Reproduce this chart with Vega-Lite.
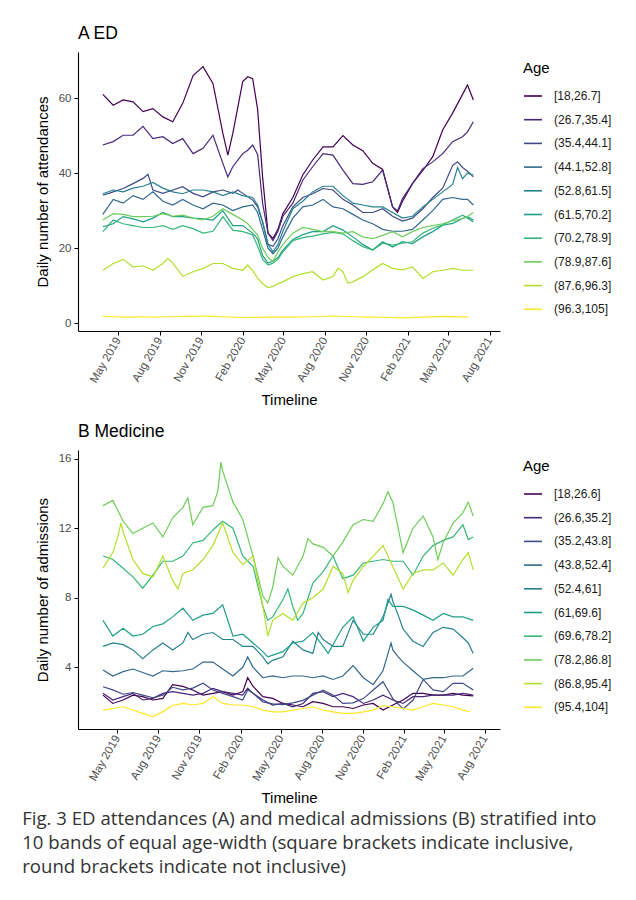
{
  "$schema": "https://vega.github.io/schema/vega-lite/v6.json",
  "background": "white",
  "padding": {"left": 22, "top": 24, "right": 5, "bottom": 10},
  "config": {
    "font": "Liberation Sans",
    "view": {"stroke": null},
    "axis": {"grid": false, "domainColor": "black", "domainWidth": 1.1, "tickColor": "black", "tickWidth": 1, "tickSize": 4, "labelColor": "#4d4d4d", "labelFontSize": 11.5, "labelPadding": 3, "titleFontSize": 15, "titleFontWeight": "normal", "titleColor": "black", "titlePadding": 8},
    "legend": {"symbolType": "stroke", "symbolSize": 324, "symbolStrokeWidth": 1.6, "labelFontSize": 12, "labelColor": "#1a1a1a", "labelOffset": 11, "titleFontSize": 15, "titleFontWeight": "normal", "titleColor": "black", "titlePadding": 10, "rowPadding": 7.7, "offset": 14, "padding": 9},
    "title": {"fontSize": 17.5, "fontWeight": "normal", "anchor": "start", "frame": "group", "color": "black", "offset": 10}
  },
  "title": {
    "text": ["Fig. 3 ED attendances (A) and medical admissions (B) stratified into", "10 bands of equal age-width (square brackets indicate inclusive,", "round brackets indicate not inclusive)"],
    "orient": "bottom", "anchor": "start", "frame": "bounds", "font": "Open Sans", "fontSize": 18.6, "fontWeight": "normal", "color": "#333333", "lineHeight": 24, "offset": 5, "dx": -13
  },
  "spacing": 14,
  "resolve": {"scale": {"color": "independent", "x": "independent", "y": "independent"}, "legend": {"color": "independent"}},
  "datasets": {
    "ed": [
      {"d":"2019-03-28","a1":61,"a2":47.5,"a3":34.1,"a4":29,"a5":34.5,"a6":25.7,"a7":24.4,"a8":27.5,"a9":14.1,"a10":1.8},
      {"d":"2019-04-20","a1":58.1,"a2":48.4,"a3":35,"a4":33,"a5":35.5,"a6":26.5,"a7":27.5,"a8":29.2,"a9":15.9,"a10":1.7},
      {"d":"2019-05-12","a1":59.5,"a2":50.1,"a3":35.9,"a4":32,"a5":35,"a6":28.4,"a7":26.5,"a8":29,"a9":17,"a10":1.6},
      {"d":"2019-06-03","a1":59,"a2":50.1,"a3":37.2,"a4":34,"a5":36,"a6":27.8,"a7":26,"a8":28.4,"a9":15,"a10":1.6},
      {"d":"2019-06-25","a1":56.4,"a2":52.5,"a3":38.6,"a4":33,"a5":36.5,"a6":27,"a7":25.5,"a8":28.4,"a9":15.3,"a10":1.7},
      {"d":"2019-07-06","a3":39.7},
      {"d":"2019-07-17","a1":57.2,"a2":49.2,"a3":35.5,"a4":35,"a5":37.5,"a6":28,"a7":25.5,"a8":28.5,"a9":14.1,"a10":1.6},
      {"d":"2019-08-08","a1":55,"a2":49.7,"a3":34.6,"a4":32.5,"a5":36,"a6":29.5,"a7":26,"a8":29.2,"a9":15.9,"a10":1.7},
      {"d":"2019-08-19","a9":17.2},
      {"d":"2019-08-30","a1":53.7,"a2":47.9,"a3":35.5,"a4":31.5,"a5":35,"a6":28.4,"a7":25,"a8":28.5,"a9":16,"a10":1.7},
      {"d":"2019-09-21","a1":58.6,"a2":49.2,"a3":36.4,"a4":33,"a5":34.5,"a6":28.4,"a7":26,"a8":28.8,"a9":12.5,"a10":1.8},
      {"d":"2019-10-14","a1":66,"a2":45.2,"a3":34.6,"a4":31.5,"a5":35.5,"a6":28,"a7":25.2,"a8":28,"a9":13.7,"a10":1.8},
      {"d":"2019-11-05","a1":68.4,"a2":46.6,"a3":33.7,"a4":30.5,"a5":35.5,"a6":27.8,"a7":24,"a8":27.5,"a9":14.6,"a10":1.9},
      {"d":"2019-11-27","a1":63.9,"a2":50.1,"a3":35,"a4":32,"a5":35,"a6":27.5,"a7":24.5,"a8":28.5,"a9":15.9,"a10":1.8},
      {"d":"2019-12-19","a1":50.6,"a2":42.6,"a3":35.5,"a4":31.5,"a5":34,"a6":30,"a7":28.4,"a8":30.5,"a9":15.9,"a10":1.7},
      {"d":"2019-12-30","a1":44.8,"a2":39},
      {"d":"2020-01-10","a1":50.6,"a2":41.7,"a3":34.6,"a4":30,"a5":35,"a6":26,"a7":24.8,"a8":29,"a9":14.6,"a10":1.6},
      {"d":"2020-01-21","a3":35.5},
      {"d":"2020-02-01","a1":64.4,"a2":45.2,"a3":34.6,"a4":31,"a5":34,"a6":26,"a7":24.4,"a8":27.5,"a9":14.1,"a10":1.5},
      {"d":"2020-02-12","a1":65.7,"a2":46.1,"a6":25,"a7":24,"a8":26.5,"a9":15.5},
      {"d":"2020-02-23","a1":65.2,"a2":47.5,"a3":32.8,"a4":31.5,"a5":33.5,"a6":24,"a7":23.5,"a8":25,"a9":14},
      {"d":"2020-03-05","a1":57,"a2":45,"a3":31,"a4":29.5,"a5":31.5,"a6":22.5,"a7":20.5,"a8":23.5,"a9":12},
      {"d":"2020-03-16","a1":39,"a2":32,"a3":27,"a4":25,"a5":27,"a6":18,"a7":17,"a8":20,"a9":10.5},
      {"d":"2020-03-28","a1":24,"a2":24,"a3":21,"a4":20,"a5":21,"a6":16,"a7":15.5,"a8":17.5,"a9":9.5},
      {"d":"2020-04-08","a1":22.6,"a2":22,"a3":20.5,"a4":18.5,"a5":19,"a6":16.5,"a7":16,"a8":16.5,"a9":9.8,"a10":1.6},
      {"d":"2020-04-19","a1":25,"a2":24.5,"a3":22.5,"a4":20,"a5":21,"a6":17.5,"a7":17,"a8":19,"a9":10.5},
      {"d":"2020-04-30","a1":29.2,"a2":28.5,"a3":26,"a4":23,"a5":24.5,"a6":19.5,"a7":19,"a8":21,"a9":11},
      {"d":"2020-05-22","a1":33.5,"a2":32,"a3":31,"a4":28,"a5":30.5,"a6":22.3,"a7":22,"a8":24,"a9":12.4,"a10":1.6},
      {"d":"2020-06-13","a1":39.5,"a2":38.1,"a3":33.5,"a4":31,"a5":32.5,"a6":23.6,"a7":22.8,"a8":25.5,"a9":13.2},
      {"d":"2020-07-05","a1":43.5,"a2":41.7,"a3":34.5,"a4":31.5,"a5":35,"a6":24.4,"a7":23.2,"a8":25,"a9":13.7,"a10":1.7},
      {"d":"2020-07-28","a1":47,"a2":45.2,"a3":35.9,"a4":33,"a5":36.5,"a6":24.4,"a7":23.8,"a8":24.4,"a9":11.5},
      {"d":"2020-08-19","a1":47,"a2":44.8,"a3":35.5,"a4":31,"a5":36.5,"a6":26,"a7":24.2,"a8":24.4,"a9":12.4,"a10":1.9},
      {"d":"2020-08-30","a9":14.6},
      {"d":"2020-09-10","a1":50,"a2":40.8,"a3":33,"a4":30.5,"a5":34,"a6":24.8,"a7":23.8,"a8":24,"a9":13.7},
      {"d":"2020-09-21","a9":10.6},
      {"d":"2020-10-02","a1":47.5,"a2":37.2,"a3":31.5,"a4":29,"a5":32,"a6":23,"a7":22,"a8":24.4,"a9":11,"a10":1.7},
      {"d":"2020-10-24","a1":46,"a2":37,"a3":29.5,"a4":27.5,"a5":31.5,"a6":21,"a7":20.4,"a8":23,"a9":12.4},
      {"d":"2020-11-15","a1":42.6,"a2":37.7,"a3":29.5,"a4":26.5,"a5":31,"a6":19.5,"a7":19.5,"a8":22.5,"a9":14.2,"a10":1.6},
      {"d":"2020-12-07","a1":41,"a2":40.8,"a3":30.5,"a4":25,"a5":31,"a6":21.7,"a7":21.3,"a8":23.4,"a9":15.9},
      {"d":"2020-12-29","a1":31,"a2":31,"a3":28.5,"a4":24.5,"a5":29.5,"a6":20.3,"a7":20.8,"a8":24.4,"a9":14.6,"a10":1.5},
      {"d":"2021-01-09","a1":29.5,"a2":30},
      {"d":"2021-01-20","a1":32.5,"a2":33.2,"a3":27.2,"a4":24.5,"a5":28,"a6":21.7,"a7":21.3,"a8":23,"a9":14.2,"a10":1.4},
      {"d":"2021-02-11","a1":37.2,"a2":37.2,"a3":28,"a4":25,"a5":28.5,"a6":21.2,"a7":21.7,"a8":24.4,"a9":15},
      {"d":"2021-03-06","a1":40.7,"a2":41.2,"a3":30.5,"a4":27.5,"a5":31,"a6":23,"a7":24,"a8":25.5,"a9":11.9,"a10":1.6},
      {"d":"2021-03-28","a1":44.4,"a2":43,"a3":33.5,"a4":30,"a5":33,"a6":24.4,"a7":25.3,"a8":26,"a9":13.7},
      {"d":"2021-04-19","a1":51.5,"a2":45.2,"a3":36,"a4":33,"a5":35,"a6":26.1,"a7":26.2,"a8":26.5,"a9":14.1,"a10":1.8},
      {"d":"2021-05-11","a1":56,"a2":48.4,"a3":42,"a4":33.5,"a5":37,"a6":26.6,"a7":27.5,"a8":27.3,"a9":14.6},
      {"d":"2021-05-22","a3":43,"a5":41.5},
      {"d":"2021-06-02","a1":61,"a2":49.7,"a3":41.5,"a4":33,"a5":38.5,"a6":27.9,"a7":28.8,"a8":27.9,"a9":14.1},
      {"d":"2021-06-13","a1":63.5,"a2":51,"a3":40.5,"a4":33,"a5":40,"a6":28.4,"a7":28,"a8":28.5},
      {"d":"2021-06-15","a10":1.6},
      {"d":"2021-06-26","a1":59.5,"a2":53.7,"a3":39,"a4":31.5,"a5":39.5,"a6":27.5,"a7":27,"a8":29.5,"a9":14.1}
    ],
    "med": [
      {"d":"2019-03-30","b1":2.4,"b2":2.5,"b3":2.88,"b4":3.85,"b5":5.2,"b6":6.7,"b7":10.4,"b8":13.3,"b9":9.7,"b10":1.54},
      {"d":"2019-04-21","b1":1.92,"b2":2.12,"b3":2.7,"b4":3.5,"b5":5.4,"b6":5.8,"b7":10.2,"b8":13.6,"b9":10.6,"b10":1.63},
      {"d":"2019-05-02","b9":11.5},
      {"d":"2019-05-09","b9":12.3},
      {"d":"2019-05-14","b1":2.12,"b2":2.31,"b3":2.45,"b4":3.75,"b5":5.3,"b6":6.25,"b7":9.7,"b8":12.4,"b9":11.8,"b10":1.73},
      {"d":"2019-05-25","b9":11},
      {"d":"2019-06-05","b1":2.4,"b2":2.5,"b3":2.55,"b4":3.9,"b5":5.0,"b6":5.8,"b7":9.2,"b8":11.7,"b9":10.2,"b10":1.54},
      {"d":"2019-06-27","b1":2.31,"b2":2.12,"b3":2.4,"b4":3.7,"b5":4.5,"b6":5.9,"b7":8.55,"b8":12.0,"b9":9.4,"b10":1.35},
      {"d":"2019-07-20","b1":2.12,"b2":2.21,"b3":2.25,"b4":3.5,"b5":5.0,"b6":6.35,"b7":9.3,"b8":12.3,"b9":9.2,"b10":1.15},
      {"d":"2019-08-11","b1":2.21,"b2":2.5,"b3":2.4,"b4":3.8,"b5":5.4,"b6":6.5,"b7":10.1,"b8":11.5,"b9":10.4,"b10":1.45},
      {"d":"2019-09-02","b1":3.0,"b2":2.6,"b3":2.85,"b4":3.75,"b5":5.0,"b6":6.9,"b7":10.1,"b8":12.6,"b9":9.0,"b10":1.8},
      {"d":"2019-09-14","b9":8.5},
      {"d":"2019-09-25","b1":2.9,"b2":2.5,"b3":2.7,"b4":3.8,"b5":5.4,"b6":7.4,"b7":10.4,"b8":13.2,"b9":9.4,"b10":1.92},
      {"d":"2019-10-06","b5":6.0,"b8":13.75},
      {"d":"2019-10-17","b1":2.69,"b2":2.4,"b3":2.8,"b4":3.9,"b5":5.6,"b6":6.7,"b7":11.15,"b8":12.2,"b9":9.6,"b10":1.83},
      {"d":"2019-11-09","b1":2.4,"b2":2.5,"b3":3.08,"b4":4.3,"b5":5.9,"b6":7.0,"b7":11.3,"b8":13.2,"b9":10.2,"b10":1.92},
      {"d":"2019-12-01","b1":2.5,"b2":2.79,"b3":2.69,"b4":4.3,"b5":6.0,"b6":7.1,"b7":11.9,"b8":13.3,"b9":11.0,"b10":2.31},
      {"d":"2019-12-12","b8":14.1},
      {"d":"2019-12-19","b8":15.8},
      {"d":"2019-12-23","b1":2.6,"b2":2.6,"b3":2.5,"b4":3.9,"b5":5.6,"b6":7.6,"b7":12.4,"b8":15.3,"b9":12.3,"b10":1.92},
      {"d":"2020-01-15","b1":2.4,"b2":2.5,"b3":2.31,"b4":3.5,"b5":5.6,"b6":5.8,"b7":12.0,"b8":13.5,"b9":10.6,"b10":1.83},
      {"d":"2020-02-06","b1":2.6,"b2":2.4,"b3":2.12,"b4":4.0,"b5":5.2,"b6":5.9,"b7":10.4,"b8":12.5,"b9":9.9,"b10":1.83},
      {"d":"2020-02-17","b1":3.4,"b2":2.8,"b3":2.69,"b4":4.6},
      {"d":"2020-02-29","b1":2.9,"b2":2.5,"b3":2.5,"b4":4.0,"b5":5.2,"b6":5.4,"b7":9.8,"b8":10.4,"b9":10.4,"b10":1.73},
      {"d":"2020-03-22","b1":2.31,"b2":2.12,"b3":2.0,"b4":3.4,"b5":4.6,"b6":4.9,"b7":7.5,"b8":8.1,"b9":7.5,"b10":1.54},
      {"d":"2020-04-02","b5":4.2,"b6":4.6,"b7":6.7,"b8":7.7,"b9":5.8},
      {"d":"2020-04-13","b1":2.21,"b2":1.83,"b3":1.9,"b4":3.5,"b5":4.4,"b6":4.7,"b7":6.9,"b8":8.6,"b9":6.7,"b10":1.44},
      {"d":"2020-04-25","b8":10.3},
      {"d":"2020-05-06","b1":1.92,"b2":1.92,"b3":1.85,"b4":3.4,"b5":4.6,"b6":4.9,"b7":7.9,"b8":9.8,"b9":7.1,"b10":1.44},
      {"d":"2020-05-17","b7":8.5},
      {"d":"2020-05-28","b1":1.83,"b2":1.73,"b3":1.95,"b4":3.5,"b5":5.5,"b6":5.4,"b7":7.5,"b8":9.3,"b9":6.7,"b10":1.54},
      {"d":"2020-06-08","b7":6.7},
      {"d":"2020-06-20","b1":1.73,"b2":1.92,"b3":2.1,"b4":3.5,"b5":5.0,"b6":5.5,"b7":7.1,"b8":10.4,"b9":7.7,"b10":1.63},
      {"d":"2020-07-01","b8":11.4},
      {"d":"2020-07-12","b1":2.02,"b2":2.5,"b3":2.4,"b4":3.4,"b5":4.8,"b6":6.0,"b7":8.85,"b8":11.1,"b9":8.0,"b10":1.73},
      {"d":"2020-07-24","b5":6.0},
      {"d":"2020-08-04","b1":1.92,"b2":2.6,"b3":2.69,"b4":3.5,"b5":5.6,"b6":5.2,"b7":9.5,"b8":10.9,"b9":8.5,"b10":1.54},
      {"d":"2020-08-15","b6":4.8},
      {"d":"2020-08-26","b1":1.73,"b2":2.31,"b3":2.4,"b4":3.3,"b5":5.2,"b6":5.3,"b7":10.4,"b8":10.4,"b9":9.8,"b10":1.44},
      {"d":"2020-09-17","b1":1.73,"b2":2.5,"b3":1.92,"b4":3.5,"b5":5.2,"b6":6.3,"b7":9.1,"b8":11.2,"b9":9.4,"b10":1.35},
      {"d":"2020-09-29","b9":8.3},
      {"d":"2020-10-10","b1":1.63,"b2":2.31,"b3":1.95,"b4":4.1,"b5":6.7,"b6":6.9,"b7":9.3,"b8":12.2,"b9":9.0,"b10":1.35},
      {"d":"2020-11-02","b1":1.83,"b2":1.92,"b3":2.2,"b4":3.4,"b5":5.9,"b6":5.5,"b7":10.0,"b8":12.5,"b9":9.8,"b10":1.44},
      {"d":"2020-11-24","b1":1.92,"b2":2.12,"b3":2.69,"b4":3.0,"b5":5.9,"b6":6.3,"b7":10.1,"b8":12.4,"b9":10.4,"b10":1.54},
      {"d":"2020-12-16","b1":1.54,"b2":2.4,"b3":3.17,"b4":3.8,"b5":6.9,"b6":6.7,"b7":10.2,"b8":13.4,"b9":11.0,"b10":1.8},
      {"d":"2020-12-27","b3":2.69,"b6":7.9,"b8":14.1},
      {"d":"2021-01-03","b4":5.4,"b5":8.2},
      {"d":"2021-01-07","b1":1.83,"b2":2.12,"b3":2.2,"b4":5.0,"b5":7.8,"b6":7.5,"b7":10.1,"b8":13.5,"b9":9.8,"b10":1.73},
      {"d":"2021-01-19","b4":4.6,"b5":7.0},
      {"d":"2021-01-30","b1":2.12,"b2":1.92,"b3":1.6,"b4":4.3,"b5":6.2,"b6":7.5,"b7":10.1,"b8":10.6,"b9":8.5,"b10":1.63},
      {"d":"2021-02-21","b1":2.5,"b2":2.31,"b3":2.1,"b4":3.8,"b5":5.5,"b6":7.3,"b7":9.3,"b8":12.0,"b9":9.4,"b10":1.54},
      {"d":"2021-03-16","b1":2.5,"b2":2.31,"b3":3.3,"b4":3.3,"b5":5.2,"b6":7.0,"b7":10.4,"b8":12.7,"b9":9.6,"b10":1.73},
      {"d":"2021-04-07","b1":2.4,"b2":2.4,"b3":2.7,"b4":3.4,"b5":6.0,"b6":6.7,"b7":11.0,"b8":11.5,"b9":9.6,"b10":1.92},
      {"d":"2021-04-18","b8":10.2},
      {"d":"2021-04-30","b1":2.4,"b2":2.4,"b3":2.6,"b4":3.4,"b5":6.3,"b6":7.1,"b7":11.3,"b8":11.2,"b9":10.0,"b10":1.83},
      {"d":"2021-05-22","b1":2.5,"b2":2.4,"b3":3.08,"b4":3.5,"b5":6.2,"b6":6.9,"b7":11.5,"b8":12.3,"b9":9.3,"b10":1.73},
      {"d":"2021-06-13","b1":2.4,"b2":2.5,"b3":3.08,"b4":3.5,"b5":5.7,"b6":6.9,"b7":12.2,"b8":12.9,"b9":10.2,"b10":1.54},
      {"d":"2021-06-25","b5":5.4,"b7":11.35,"b8":13.5,"b9":10.6},
      {"d":"2021-06-29","b10":1.44},
      {"d":"2021-07-06","b1":2.35,"b2":2.4,"b3":2.69,"b4":3.95,"b5":4.8,"b6":6.7,"b7":11.5,"b8":12.7,"b9":9.6}
    ]
  },
  "vconcat": [
    {
      "title": {"text": "A ED"},
      "width": 422,
      "height": 279,
      "data": {"name": "ed"},
      "transform": [
        {"fold": ["a1","a2","a3","a4","a5","a6","a7","a8","a9","a10"], "as": ["ka","v"]},
        {"filter": "isValid(datum.v)"}
      ],
      "mark": {"type": "line", "strokeWidth": 1.2},
      "encoding": {
        "x": {"field": "d", "type": "temporal",
          "scale": {"type": "utc", "domain": [{"year":2019,"month":2,"date":1,"utc":true},{"year":2021,"month":8,"date":24,"utc":true}]},
          "axis": {"title": "Timeline", "format": "%b %Y", "labelAngle": -60,
            "values": [{"year":2019,"month":5,"date":1,"utc":true},{"year":2019,"month":8,"date":1,"utc":true},{"year":2019,"month":11,"date":1,"utc":true},{"year":2020,"month":2,"date":1,"utc":true},{"year":2020,"month":5,"date":1,"utc":true},{"year":2020,"month":8,"date":1,"utc":true},{"year":2020,"month":11,"date":1,"utc":true},{"year":2021,"month":2,"date":1,"utc":true},{"year":2021,"month":5,"date":1,"utc":true},{"year":2021,"month":8,"date":1,"utc":true}]}},
        "y": {"field": "v", "type": "quantitative",
          "scale": {"domain": [-2.1, 72.3], "nice": false, "zero": false},
          "axis": {"title": "Daily number of attendances", "values": [0,20,40,60]}},
        "color": {"field": "ka", "type": "nominal",
          "scale": {"domain": ["a1","a2","a3","a4","a5","a6","a7","a8","a9","a10"], "range": ["#440154","#482878","#3E4A89","#31688E","#26828E","#1F9E89","#35B779","#6DCD59","#B4DE2C","#FDE725"]},
          "legend": {"title": "Age", "labelExpr": "{'a1':'[18,26.7]','a2':'(26.7,35.4]','a3':'(35.4,44.1]','a4':'(44.1,52.8]','a5':'(52.8,61.5]','a6':'(61.5,70.2]','a7':'(70.2,78.9]','a8':'(78.9,87.6]','a9':'(87.6,96.3]','a10':'(96.3,105]'}[datum.label]"}}
      }
    },
    {
      "title": {"text": "B Medicine"},
      "width": 422,
      "height": 279,
      "data": {"name": "med"},
      "transform": [
        {"fold": ["b1","b2","b3","b4","b5","b6","b7","b8","b9","b10"], "as": ["kb","v"]},
        {"filter": "isValid(datum.v)"}
      ],
      "mark": {"type": "line", "strokeWidth": 1.2},
      "encoding": {
        "x": {"field": "d", "type": "temporal",
          "scale": {"type": "utc", "domain": [{"year":2019,"month":2,"date":2,"utc":true},{"year":2021,"month":9,"date":4,"utc":true}]},
          "axis": {"title": "Timeline", "format": "%b %Y", "labelAngle": -60,
            "values": [{"year":2019,"month":5,"date":1,"utc":true},{"year":2019,"month":8,"date":1,"utc":true},{"year":2019,"month":11,"date":1,"utc":true},{"year":2020,"month":2,"date":1,"utc":true},{"year":2020,"month":5,"date":1,"utc":true},{"year":2020,"month":8,"date":1,"utc":true},{"year":2020,"month":11,"date":1,"utc":true},{"year":2021,"month":2,"date":1,"utc":true},{"year":2021,"month":5,"date":1,"utc":true},{"year":2021,"month":8,"date":1,"utc":true}]}},
        "y": {"field": "v", "type": "quantitative",
          "scale": {"domain": [0.45, 16.5], "nice": false, "zero": false},
          "axis": {"title": "Daily number of admissions", "values": [4,8,12,16]}},
        "color": {"field": "kb", "type": "nominal",
          "scale": {"domain": ["b1","b2","b3","b4","b5","b6","b7","b8","b9","b10"], "range": ["#440154","#482878","#3E4A89","#31688E","#26828E","#1F9E89","#35B779","#6DCD59","#B4DE2C","#FDE725"]},
          "legend": {"title": "Age", "labelExpr": "{'b1':'[18,26.6]','b2':'(26.6,35.2]','b3':'(35.2,43.8]','b4':'(43.8,52.4]','b5':'(52.4,61]','b6':'(61,69.6]','b7':'(69.6,78.2]','b8':'(78.2,86.8]','b9':'(86.8,95.4]','b10':'(95.4,104]'}[datum.label]"}}
      }
    }
  ]
}
